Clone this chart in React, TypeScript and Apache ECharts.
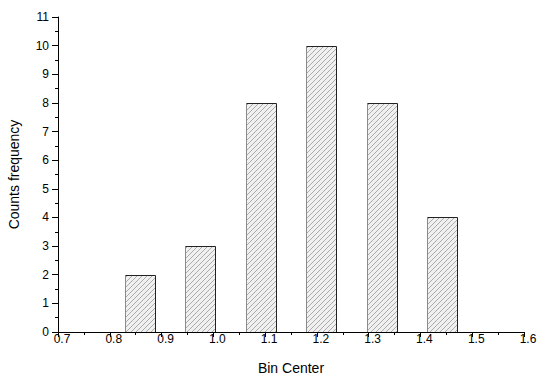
import React, { useEffect, useRef } from "react";
import * as echarts from "echarts";

const binCenters = [0.858, 0.975, 1.092, 1.208, 1.325, 1.442];
const counts = [2, 3, 8, 10, 8, 4];
const barWidthUnits = 0.0583;
const xTicks = ["0.7", "0.8", "0.9", "1.0", "1.1", "1.2", "1.3", "1.4", "1.5", "1.6"];

export default function App() {
  const ref = useRef<HTMLDivElement>(null);
  useEffect(() => {
    const chart = echarts.init(ref.current!, null, { renderer: "svg" });
    const font = "'Liberation Sans', Arial, sans-serif";
    chart.setOption({
      animation: false,
      backgroundColor: "#ffffff",
      grid: {
        left: 58,
        right: 16,
        top: 17,
        bottom: 45,
        containLabel: false,
        outerBoundsMode: "none",
      },
      xAxis: {
        type: "value",
        min: 0.7,
        max: 1.6,
        interval: 0.1,
        name: "Bin Center",
        nameLocation: "middle",
        nameGap: 28,
        nameTextStyle: { fontFamily: font, fontSize: 14, color: "#000", lineHeight: 16 },
        axisLine: { show: true, onZero: false, lineStyle: { color: "#000", width: 1 } },
        axisTick: { show: true, length: 5, inside: false, lineStyle: { color: "#000" } },
        minorTick: { show: true, splitNumber: 2, length: 3, lineStyle: { color: "#000" } },
        splitLine: { show: false },
        axisLabel: {
          fontFamily: font,
          fontSize: 12,
          color: "#000",
          margin: 1,
          padding: [0, 0, 0, 8],
          formatter: (v: number) => {
            const s = v.toFixed(1);
            return xTicks.includes(s) ? s : "";
          },
        },
      },
      yAxis: {
        type: "value",
        min: 0,
        max: 11,
        interval: 1,
        name: "Counts frequency",
        nameLocation: "middle",
        nameGap: 37,
        nameRotate: 90,
        nameTextStyle: { fontFamily: font, fontSize: 14, color: "#000" },
        axisLine: { show: true, lineStyle: { color: "#000", width: 1 } },
        axisTick: { show: true, length: 6, lineStyle: { color: "#000" } },
        minorTick: { show: true, splitNumber: 2, length: 3, lineStyle: { color: "#000" } },
        splitLine: { show: false },
        axisLabel: { fontFamily: font, fontSize: 12, color: "#000", margin: 9 },
      },
      series: [
        {
          type: "custom",
          data: binCenters.map((c, i) => [c, counts[i]]),
          clip: false,
          renderItem: (params: any, api: any) => {
            const c = api.value(0);
            const v = api.value(1);
            const p0 = api.coord([c - barWidthUnits / 2, v]);
            const p1 = api.coord([c + barWidthUnits / 2, 0]);
            const xL = Math.round(p0[0]) + 0.5;
            const xR = Math.round(p1[0]) + 0.5;
            const yT = Math.round(p0[1]) + 0.5;
            const yB = Math.round(p1[1]);
            const H = yB - yT;
            const children: any[] = [
              {
                type: "rect",
                shape: { x: xL, y: yT, width: xR - xL, height: H },
                style: { fill: "#f0f0f0", stroke: null },
              },
            ];
            const step = 5;
            for (let s = xL - H + 2; s < xR; s += step) {
              const xa = Math.max(xL, s);
              const xb = Math.min(xR, s + H);
              if (xb <= xa) continue;
              const ya = yB - (xa - s);
              const yb = yB - (xb - s);
              children.push({
                type: "line",
                shape: { x1: xa, y1: ya, x2: xb, y2: yb },
                style: { stroke: "#8c8c8c", lineWidth: 0.7 },
              });
            }
            children.push({
              type: "line",
              shape: { x1: xL, y1: yB, x2: xL, y2: yT },
              style: { stroke: "#8a8a8a", lineWidth: 1 },
            });
            children.push({
              type: "polyline",
              shape: { points: [[xL, yT], [xR, yT], [xR, yB]] },
              style: { stroke: "#222", lineWidth: 1, fill: null },
            });
            return { type: "group", children };
          },
        },
      ],
    });
    return () => chart.dispose();
  }, []);
  return (
    <div
      ref={ref}
      style={{ position: "absolute", left: 0, top: 0, width: 540, height: 377 }}
    />
  );
}
